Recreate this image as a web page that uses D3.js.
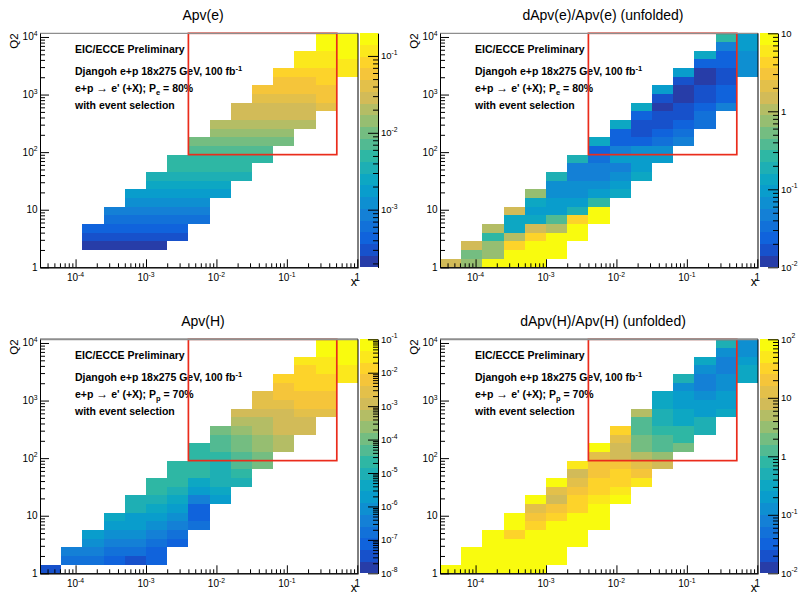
<!DOCTYPE html>
<html>
<head>
<meta charset="utf-8">
<title>Apv maps</title>
<script src="https://cdn.jsdelivr.net/npm/d3@7/dist/d3.min.js"></script>
<style>
  body { margin: 0; background: #fff; }
  svg { display: block; font-family: "Liberation Sans", Arial, Helvetica, sans-serif; }
  .note { font-weight: bold; font-size: 10.5px; white-space: pre; }
</style>
</head>
<body>
<div id="GraphHolder"></div>
<script>
var _ = null;

// bin edges: x doubles per bin, Q2 grows by sqrt(2) per bin
var xEdges = [3.125e-5, 6.25e-5, 1.25e-4, 2.5e-4, 5e-4, 1e-3, 2e-3, 4e-3, 8e-3, 0.016, 0.032, 0.064, 0.128, 0.256, 0.512, 1.024];
var q2Edges = [1, 1.414, 2, 2.828, 4, 5.657, 8, 11.31, 16, 22.63, 32, 45.25, 64, 90.51, 128, 181.0, 256, 362.0, 512, 724.1, 1024, 1448, 2048, 2896, 4096, 5793, 8192, 11585];

var xTicks = [1e-4, 1e-3, 1e-2, 1e-1, 1];
var q2Ticks = [1, 10, 100, 1000, 10000];

var titles = ["Apv(e)", "dApv(e)/Apv(e) (unfolded)", "Apv(H)", "dApv(H)/Apv(H) (unfolded)"];
var zRanges = [[1.78e-4, 0.197], [0.01, 10], [1e-8, 0.1], [0.01, 100]];
var beamPol = [["e", "80%"], ["e", "80%"], ["p", "70%"], ["p", "70%"]];
var boxX = [4e-3, 0.512];
var boxQ2 = [90.51, 11585];

// cell contents, one row per Q2 bin (lowest first), one entry per x bin
var apvE = [
  [_,_,_,_,_,_,_,_,_,_,_,_,_,_,_],
  [_,_,_,_,_,_,_,_,_,_,_,_,_,_,_],
  [_,_,2.1e-4,2.1e-4,2.1e-4,2.2e-4,_,_,_,_,_,_,_,_,_],
  [_,_,3.0e-4,3.0e-4,3.0e-4,3.1e-4,3.1e-4,_,_,_,_,_,_,_,_],
  [_,_,4.2e-4,4.3e-4,4.3e-4,4.4e-4,4.4e-4,_,_,_,_,_,_,_,_],
  [_,_,_,6.0e-4,6.1e-4,6.1e-4,6.2e-4,6.2e-4,_,_,_,_,_,_,_],
  [_,_,_,8.5e-4,8.6e-4,8.6e-4,8.7e-4,8.8e-4,_,_,_,_,_,_,_],
  [_,_,_,_,1.2e-3,1.2e-3,1.2e-3,1.2e-3,_,_,_,_,_,_,_],
  [_,_,_,_,1.7e-3,1.7e-3,1.7e-3,1.7e-3,1.8e-3,_,_,_,_,_,_],
  [_,_,_,_,_,2.5e-3,2.5e-3,2.5e-3,2.5e-3,_,_,_,_,_,_],
  [_,_,_,_,_,3.5e-3,3.5e-3,3.5e-3,3.5e-3,3.6e-3,_,_,_,_,_],
  [_,_,_,_,_,_,5.0e-3,5.0e-3,5.0e-3,5.0e-3,_,_,_,_,_],
  [_,_,_,_,_,_,5.4e-3,5.4e-3,5.5e-3,5.5e-3,5.6e-3,_,_,_,_],
  [_,_,_,_,_,_,_,7.1e-3,7.1e-3,7.2e-3,7.2e-3,_,_,_,_],
  [_,_,_,_,_,_,_,1.0e-2,1.0e-2,1.0e-2,1.0e-2,1.1e-2,_,_,_],
  [_,_,_,_,_,_,_,_,1.4e-2,1.4e-2,1.4e-2,1.4e-2,_,_,_],
  [_,_,_,_,_,_,_,_,2.0e-2,2.0e-2,2.0e-2,2.0e-2,2.1e-2,_,_],
  [_,_,_,_,_,_,_,_,_,2.9e-2,2.9e-2,2.9e-2,2.9e-2,_,_],
  [_,_,_,_,_,_,_,_,_,3.1e-2,3.1e-2,3.1e-2,3.2e-2,4.3e-2,_],
  [_,_,_,_,_,_,_,_,_,_,4.1e-2,4.1e-2,4.2e-2,5.8e-2,_],
  [_,_,_,_,_,_,_,_,_,_,5.8e-2,5.8e-2,5.9e-2,6.0e-2,_],
  [_,_,_,_,_,_,_,_,_,_,_,5.9e-2,6.0e-2,8.2e-2,_],
  [_,_,_,_,_,_,_,_,_,_,_,8.2e-2,8.2e-2,8.3e-2,0.117],
  [_,_,_,_,_,_,_,_,_,_,_,_,0.117,0.117,0.118],
  [_,_,_,_,_,_,_,_,_,_,_,_,0.12,0.12,0.166],
  [_,_,_,_,_,_,_,_,_,_,_,_,_,0.166,0.17],
  [_,_,_,_,_,_,_,_,_,_,_,_,_,0.18,0.19]
];

var dApvE = [
  [1.5,0.75,9.5,9.5,9.5,_,_,_,_,_,_,_,_,_,_],
  [_,0.53,0.75,9.5,9.5,9.5,_,_,_,_,_,_,_,_,_],
  [_,1.5,0.75,4.2,9.5,9.5,_,_,_,_,_,_,_,_,_],
  [_,_,0.27,1.06,4.2,9.5,9.5,_,_,_,_,_,_,_,_],
  [_,_,1.06,0.13,1.5,1.06,9.5,_,_,_,_,_,_,_,_],
  [_,_,_,0.13,0.13,0.38,4.2,9.5,_,_,_,_,_,_,_],
  [_,_,_,1.5,0.094,0.094,0.19,9.5,_,_,_,_,_,_,_],
  [_,_,_,_,0.13,0.094,0.094,0.27,_,_,_,_,_,_,_],
  [_,_,_,_,0.75,0.067,0.067,0.094,0.13,_,_,_,_,_,_],
  [_,_,_,_,_,0.067,0.067,0.067,0.094,_,_,_,_,_,_],
  [_,_,_,_,_,0.19,0.047,0.047,0.067,0.13,_,_,_,_,_],
  [_,_,_,_,_,_,0.047,0.047,0.047,0.094,_,_,_,_,_],
  [_,_,_,_,_,_,0.19,0.034,0.094,0.094,0.094,_,_,_,_],
  [_,_,_,_,_,_,_,0.024,0.047,0.067,0.067,_,_,_,_],
  [_,_,_,_,_,_,_,0.13,0.024,0.024,0.034,0.047,_,_,_],
  [_,_,_,_,_,_,_,_,0.024,0.017,0.024,0.034,_,_,_],
  [_,_,_,_,_,_,_,_,0.13,0.017,0.017,0.024,0.034,_,_],
  [_,_,_,_,_,_,_,_,_,0.024,0.017,0.017,0.034,_,_],
  [_,_,_,_,_,_,_,_,_,0.13,0.012,0.017,0.024,0.047,_],
  [_,_,_,_,_,_,_,_,_,_,0.017,0.012,0.017,0.024,_],
  [_,_,_,_,_,_,_,_,_,_,0.094,0.012,0.017,0.024,_],
  [_,_,_,_,_,_,_,_,_,_,_,0.017,0.012,0.017,_],
  [_,_,_,_,_,_,_,_,_,_,_,0.094,0.012,0.017,0.067],
  [_,_,_,_,_,_,_,_,_,_,_,_,0.024,0.024,0.067],
  [_,_,_,_,_,_,_,_,_,_,_,_,0.13,0.024,0.067],
  [_,_,_,_,_,_,_,_,_,_,_,_,_,0.047,0.094],
  [_,_,_,_,_,_,_,_,_,_,_,_,_,0.27,0.094]
];

var apvH = [
  [3.4e-8,_,_,_,_,_,_,_,_,_,_,_,_,_,_],
  [_,1.7e-7,1.7e-7,7.5e-8,3.4e-8,7.5e-8,_,_,_,_,_,_,_,_,_],
  [_,3.8e-7,3.8e-7,1.7e-7,1.7e-7,7.5e-8,_,_,_,_,_,_,_,_,_],
  [_,_,8.4e-7,3.8e-7,3.8e-7,1.7e-7,7.5e-8,_,_,_,_,_,_,_,_],
  [_,_,1.9e-6,8.4e-7,8.4e-7,3.8e-7,1.7e-7,_,_,_,_,_,_,_,_],
  [_,_,_,1.9e-6,1.9e-6,8.4e-7,3.8e-7,1.7e-7,_,_,_,_,_,_,_],
  [_,_,_,4.2e-6,1.9e-6,1.9e-6,8.4e-7,7.5e-8,_,_,_,_,_,_,_],
  [_,_,_,_,9.4e-6,4.2e-6,1.9e-6,7.5e-8,_,_,_,_,_,_,_],
  [_,_,_,_,9.4e-6,9.4e-6,4.2e-6,3.8e-7,1.9e-6,_,_,_,_,_,_],
  [_,_,_,_,_,2.1e-5,9.4e-6,1.9e-6,4.2e-6,_,_,_,_,_,_],
  [_,_,_,_,_,2.1e-5,2.1e-5,4.2e-6,9.4e-6,9.4e-6,_,_,_,_,_],
  [_,_,_,_,_,_,2.1e-5,2.1e-5,9.4e-6,2.1e-5,_,_,_,_,_],
  [_,_,_,_,_,_,2.1e-5,2.1e-5,9.4e-6,4.7e-5,1.06e-4,_,_,_,_],
  [_,_,_,_,_,_,_,2.1e-5,2.1e-5,4.7e-5,1.06e-4,_,_,_,_],
  [_,_,_,_,_,_,_,2.1e-5,4.7e-5,1.06e-4,2.4e-4,5.3e-4,_,_,_],
  [_,_,_,_,_,_,_,_,4.7e-5,1.06e-4,2.4e-4,5.3e-4,_,_,_],
  [_,_,_,_,_,_,_,_,1.06e-4,2.4e-4,5.3e-4,1.2e-3,1.2e-3,_,_],
  [_,_,_,_,_,_,_,_,_,5.3e-4,5.3e-4,1.2e-3,1.2e-3,_,_],
  [_,_,_,_,_,_,_,_,_,1.2e-3,1.2e-3,1.2e-3,2.7e-3,2.7e-3,_],
  [_,_,_,_,_,_,_,_,_,_,2.7e-3,2.7e-3,6.0e-3,6.0e-3,_],
  [_,_,_,_,_,_,_,_,_,_,2.7e-3,6.0e-3,6.0e-3,6.0e-3,_],
  [_,_,_,_,_,_,_,_,_,_,_,6.0e-3,1.3e-2,1.3e-2,_],
  [_,_,_,_,_,_,_,_,_,_,_,1.3e-2,1.3e-2,1.3e-2,3.0e-2],
  [_,_,_,_,_,_,_,_,_,_,_,_,1.3e-2,3.0e-2,3.0e-2],
  [_,_,_,_,_,_,_,_,_,_,_,_,3.0e-2,3.0e-2,6.7e-2],
  [_,_,_,_,_,_,_,_,_,_,_,_,_,6.7e-2,6.7e-2],
  [_,_,_,_,_,_,_,_,_,_,_,_,_,7.5e-2,8.0e-2]
];

var dApvH = [
  [90,90,90,90,90,_,_,_,_,_,_,_,_,_,_],
  [_,90,90,90,90,90,_,_,_,_,_,_,_,_,_],
  [_,90,90,90,90,90,_,_,_,_,_,_,_,_,_],
  [_,_,90,90,90,90,90,_,_,_,_,_,_,_,_],
  [_,_,90,32,90,90,90,_,_,_,_,_,_,_,_],
  [_,_,_,90,32,90,90,90,_,_,_,_,_,_,_],
  [_,_,_,90,20,32,90,90,_,_,_,_,_,_,_],
  [_,_,_,_,12.6,20,32,90,_,_,_,_,_,_,_],
  [_,_,_,_,90,7.9,32,50,90,_,_,_,_,_,_],
  [_,_,_,_,_,12.6,20,32,50,_,_,_,_,_,_],
  [_,_,_,_,_,90,12.6,32,32,50,_,_,_,_,_],
  [_,_,_,_,_,_,7.9,20,32,20,_,_,_,_,_],
  [_,_,_,_,_,_,50,20,20,12.6,7.9,_,_,_,_],
  [_,_,_,_,_,_,_,12.6,7.9,5.0,3.2,_,_,_,_],
  [_,_,_,_,_,_,_,90,7.9,2.0,1.26,2.0,_,_,_],
  [_,_,_,_,_,_,_,_,12.6,2.0,1.26,0.79,_,_,_],
  [_,_,_,_,_,_,_,_,32,1.26,0.79,0.79,0.5,_,_],
  [_,_,_,_,_,_,_,_,_,1.26,0.5,0.32,0.5,_,_],
  [_,_,_,_,_,_,_,_,_,5.0,0.5,0.32,0.2,0.32,_],
  [_,_,_,_,_,_,_,_,_,_,0.32,0.2,0.2,0.2,_],
  [_,_,_,_,_,_,_,_,_,_,0.32,0.2,0.13,0.2,_],
  [_,_,_,_,_,_,_,_,_,_,_,0.13,0.079,0.13,_],
  [_,_,_,_,_,_,_,_,_,_,_,0.5,0.079,0.13,0.32],
  [_,_,_,_,_,_,_,_,_,_,_,_,0.13,0.079,0.32],
  [_,_,_,_,_,_,_,_,_,_,_,_,0.32,0.079,0.2],
  [_,_,_,_,_,_,_,_,_,_,_,_,_,0.13,0.13],
  [_,_,_,_,_,_,_,_,_,_,_,_,_,0.5,0.13]
];

var grids = [apvE, dApvE, apvH, dApvH];

// layout of one pad; the four pads are shifted copies
var width = 799, height = 594;
var frame = {left: 40, right: 358, top: 33.3, bottom: 267.3};
var cbar = {left: 359.5, right: 378};
var offsets = [[0, 0], [400, 0], [0, 306], [400, 306]];
var topLine = [1.3, 1.3, 2, 2];

// ROOT kBird palette, 20 contour levels
var birdStops = [0, 0.125, 0.25, 0.375, 0.5, 0.625, 0.75, 0.875, 1];
var birdColors = ["#352a87", "#0f5cdd", "#1481d6", "#06a4ca", "#2eb7a4", "#87bf77", "#d1bb59", "#fec832", "#f9fb0e"];
var bird = d3.scaleLinear().domain(birdStops).range(birdColors).interpolate(d3.interpolateRgb);
var nLevels = 20;
function levelColor(i) { return bird(Math.floor((i + 0.99) * 255 / nLevels) / 254); }

var svg = d3.select("#GraphHolder").append("svg")
    .attr("width", width)
    .attr("height", height)
    .style("background-color", "white");

var x = d3.scaleLog().domain([xEdges[0], xEdges[xEdges.length - 1]]).range([frame.left, frame.right]);
var y = d3.scaleLog().domain([q2Edges[0], q2Edges[q2Edges.length - 1]]).range([frame.bottom, frame.top]);

function isDecade(v) { return Math.abs(Math.log10(v) - Math.round(Math.log10(v))) < 1e-6; }

// "1", "10", or 10 with a raised exponent, the way ROOT labels log axes
function powText(sel, v) {
    var e = Math.round(Math.log10(v));
    if (e === 0) { sel.text("1"); return; }
    if (e === 1) { sel.text("10"); return; }
    sel.append("tspan").text("10");
    sel.append("tspan").attr("dy", -4.5).attr("font-size", "6.8px").text(String(e));
}

grids.forEach(function(grid, p) {
    var g = svg.append("g").attr("transform", "translate(" + offsets[p][0] + "," + offsets[p][1] + ")");
    var zr = zRanges[p];
    var z = d3.scaleLog().domain(zr).range([frame.bottom, frame.top]);
    var span = Math.log(zr[1]) - Math.log(zr[0]);
    function level(v) {
        var l = Math.floor(nLevels * (Math.log(v) - Math.log(zr[0])) / span);
        return Math.max(0, Math.min(nLevels - 1, l));
    }

    // title
    g.append("text")
        .attr("x", 203).attr("y", 19.5)
        .attr("text-anchor", "middle")
        .style("font-size", "14px")
        .text(titles[p]);

    // histogram cells
    g.append("clipPath").attr("id", "clip" + p)
        .append("rect")
        .attr("x", frame.left).attr("y", frame.top)
        .attr("width", frame.right - frame.left).attr("height", frame.bottom - frame.top);

    var cells = [];
    grid.forEach(function(row, r) {
        row.forEach(function(v, c) { if (v !== null) cells.push({r: r, c: c, v: v}); });
    });

    g.append("g").attr("clip-path", "url(#clip" + p + ")")
        .selectAll(".cell")
        .data(cells)
        .enter().append("rect")
        .attr("class", "cell")
        .attr("x", function(d) { return x(xEdges[d.c]); })
        .attr("y", function(d) { return y(q2Edges[d.r + 1]); })
        .attr("width", function(d) { return x(xEdges[d.c + 1]) - x(xEdges[d.c]); })
        .attr("height", function(d) { return y(q2Edges[d.r]) - y(q2Edges[d.r + 1]); })
        .attr("fill", function(d) { return levelColor(level(d.v)); })
        .attr("shape-rendering", "crispEdges");

    // labels inside the frame
    var notes = g.append("g").attr("class", "note");
    notes.append("text").attr("x", 75).attr("y", 53.3).text("EIC/ECCE Preliminary");
    var t2 = notes.append("text").attr("x", 75).attr("y", 75);
    t2.append("tspan").text("Djangoh e+p 18x275 GeV, 100 fb");
    t2.append("tspan").attr("dy", -4).attr("font-size", "7.5px").text("-1");
    var t3 = notes.append("text").attr("x", 75).attr("y", 91.7);
    t3.append("tspan").text("e+p ");
    t3.append("tspan").attr("font-size", "12px").attr("font-weight", "normal").text("\u2192");
    t3.append("tspan").text(" e' (+X);  P");
    t3.append("tspan").attr("dy", 3).attr("font-size", "7.5px").text(beamPol[p][0]);
    t3.append("tspan").attr("dy", -3).text(" = " + beamPol[p][1]);
    notes.append("text").attr("x", 75).attr("y", 109).text("with event selection");

    // selected region
    g.append("rect")
        .attr("x", x(boxX[0])).attr("y", y(boxQ2[1]))
        .attr("width", x(boxX[1]) - x(boxX[0]))
        .attr("height", y(boxQ2[0]) - y(boxQ2[1]))
        .attr("fill", "none")
        .attr("stroke", "#ea2c1c")
        .attr("stroke-width", 1.7);

    // frame
    g.append("line").attr("x1", frame.left).attr("x2", frame.right)
        .attr("y1", frame.top).attr("y2", frame.top)
        .attr("stroke", "#8e8e8e").attr("stroke-width", topLine[p]);
    g.append("line").attr("x1", frame.right).attr("x2", frame.right)
        .attr("y1", frame.top).attr("y2", frame.bottom)
        .attr("stroke", "black");

    // x axis: ticks point into the frame
    var xMinor = x.ticks().filter(function(v) { return !isDecade(v); });
    g.append("g").attr("transform", "translate(0," + frame.bottom + ")")
        .call(d3.axisBottom(x).tickValues(xMinor).tickSize(-4).tickSizeOuter(0).tickFormat(""));
    g.append("g").attr("transform", "translate(0," + frame.bottom + ")")
        .call(d3.axisBottom(x).tickValues(xTicks).tickSize(-8).tickSizeOuter(0).tickFormat(""));
    xTicks.forEach(function(v) {
        g.append("text").attr("x", x(v)).attr("y", 281)
            .attr("text-anchor", "middle").style("font-size", "10px")
            .call(powText, v);
    });
    g.append("text").attr("x", frame.right - 1).attr("y", 286)
        .attr("text-anchor", "end").style("font-size", "12.5px").text("x");

    // y axis
    var yMinor = y.ticks().filter(function(v) { return !isDecade(v); });
    g.append("g").attr("transform", "translate(" + frame.left + ",0)")
        .call(d3.axisLeft(y).tickValues(yMinor).tickSize(-5).tickSizeOuter(0).tickFormat(""));
    g.append("g").attr("transform", "translate(" + frame.left + ",0)")
        .call(d3.axisLeft(y).tickValues(q2Ticks).tickSize(-9).tickSizeOuter(0).tickFormat(""));
    q2Ticks.forEach(function(v) {
        g.append("text").attr("x", 37.5).attr("y", y(v) + 3.5)
            .attr("text-anchor", "end").style("font-size", "10px")
            .call(powText, v);
    });
    g.append("text")
        .attr("transform", "translate(18," + frame.top + ") rotate(-90)")
        .attr("text-anchor", "end").style("font-size", "11.5px").text("Q2");

    // colour bar
    var bands = d3.range(nLevels).map(function(i) {
        return {i: i,
                lo: Math.exp(Math.log(zr[0]) + span * i / nLevels),
                hi: Math.exp(Math.log(zr[0]) + span * (i + 1) / nLevels)};
    });
    g.append("g").selectAll(".band")
        .data(bands)
        .enter().append("rect")
        .attr("class", "band")
        .attr("x", cbar.left)
        .attr("y", function(d) { return z(d.hi); })
        .attr("width", cbar.right - cbar.left)
        .attr("height", function(d) { return z(d.lo) - z(d.hi); })
        .attr("fill", function(d) { return levelColor(d.i); })
        .attr("shape-rendering", "crispEdges");

    var zAll = z.ticks();
    var zMajor = zAll.filter(isDecade);
    var zMinor = zAll.filter(function(v) { return !isDecade(v); });
    g.append("g").attr("transform", "translate(" + cbar.right + ",0)")
        .call(d3.axisRight(z).tickValues(zMinor).tickSize(-5).tickSizeOuter(0).tickFormat(""));
    g.append("g").attr("transform", "translate(" + cbar.right + ",0)")
        .call(d3.axisRight(z).tickValues(zMajor).tickSize(-10).tickSizeOuter(0).tickFormat(""));
    zMajor.forEach(function(v) {
        g.append("text").attr("x", 381).attr("y", z(v) + 3.5)
            .style("font-size", "9.5px")
            .call(powText, v);
    });
});
</script>
</body>
</html>
